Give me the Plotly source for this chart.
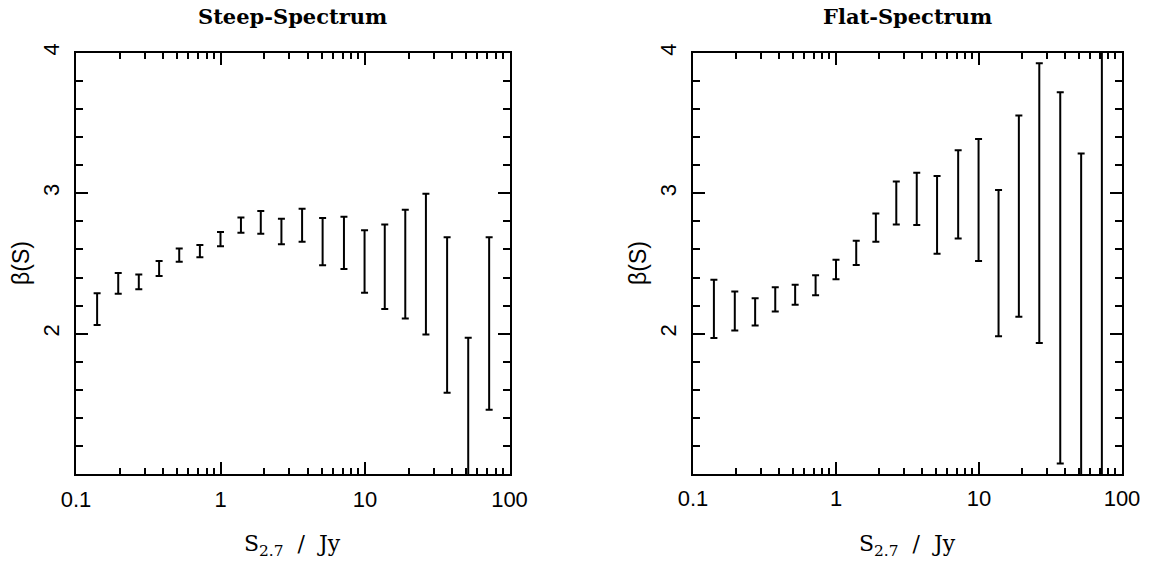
import plotly.graph_objects as go

# Bin centres (S_2.7 in Jy), shared by both panels
s_bins = [0.140, 0.196, 0.272, 0.376, 0.518, 0.72, 1.0, 1.385, 1.90, 2.64,
          3.67, 5.09, 7.15, 9.93, 13.7, 19.0, 26.4, 37.0, 51.8, 72.3]

# Steep-spectrum beta(S): lower / upper ends of each error bar
steep_lo = [2.063, 2.285, 2.316, 2.411, 2.513, 2.545, 2.623, 2.718, 2.711, 2.637,
            2.654, 2.487, 2.461, 2.291, 2.176, 2.108, 1.995, 1.581, 0.80, 1.459]
steep_hi = [2.289, 2.433, 2.421, 2.517, 2.607, 2.632, 2.725, 2.828, 2.873, 2.819,
            2.889, 2.823, 2.833, 2.736, 2.778, 2.882, 2.997, 2.687, 1.972, 2.687]

# Flat-spectrum beta(S)
flat_lo = [1.969, 2.023, 2.059, 2.158, 2.206, 2.274, 2.388, 2.489, 2.655, 2.778,
           2.775, 2.570, 2.678, 2.518, 1.981, 2.121, 1.934, 1.075, 0.80, 0.80]
flat_hi = [2.385, 2.300, 2.253, 2.331, 2.348, 2.416, 2.527, 2.662, 2.856, 3.085,
           3.147, 3.123, 3.307, 3.388, 3.024, 3.555, 3.927, 3.721, 3.284, 4.20]

panel_titles = ["Steep-Spectrum", "Flat-Spectrum"]
x_title = "S<sub>2.7</sub>  /  Jy"
y_title = "β(S)"
x_tickvals = [0.1, 1, 10, 100]
x_ticktext = ["0.1", "1", "10", "100"]
y_tickvals = [2, 3, 4]
y_ticktext = ["2", "3", "4"]

W, H = 1159, 561


def mid_err(lo, hi):
    mid = [(a + b) / 2 for a, b in zip(lo, hi)]
    err = [(b - a) / 2 for a, b in zip(lo, hi)]
    return mid, err


fig = go.Figure()
for i, (lo, hi) in enumerate([(steep_lo, steep_hi), (flat_lo, flat_hi)]):
    mid, err = mid_err(lo, hi)
    fig.add_trace(go.Scatter(
        x=s_bins, y=mid, mode="markers",
        marker=dict(size=1, color="rgba(0,0,0,0)"),
        error_y=dict(type="data", array=err, symmetric=True,
                     color="black", thickness=2, width=3.5),
        xaxis="x" if i == 0 else "x2",
        yaxis="y" if i == 0 else "y2",
        showlegend=False, hoverinfo="skip",
    ))

# panel pixel boxes (left, right, top, bottom)
boxes = [(76, 509.5, 52.7, 474.3), (693, 1122, 53, 474)]

axis_font = dict(family="Liberation Sans, Arial, sans-serif", size=22, color="black")
layout = dict(
    width=W, height=H,
    margin=dict(l=0, r=0, t=0, b=0, pad=0, autoexpand=False),
    paper_bgcolor="white", plot_bgcolor="white",
    showlegend=False,
    annotations=[],
)
for i, (l, r, t, b) in enumerate(boxes):
    sx = "" if i == 0 else "2"
    layout["xaxis" + sx] = dict(
        type="log", range=[-1, 2], domain=[l / W, r / W],
        anchor="y" + sx, automargin=False,
        showline=True, linecolor="black", linewidth=2, mirror="allticks",
        ticks="inside", ticklen=12, tickwidth=2, tickcolor="black",
        tickvals=x_tickvals, ticktext=x_ticktext, ticklabelstandoff=4,
        minor=dict(ticks="inside", ticklen=6, tickwidth=1.5, tickcolor="black",
                   dtick="D1", showgrid=False),
        showgrid=False, zeroline=False, tickfont=axis_font,
    )
    layout["yaxis" + sx] = dict(
        range=[1, 4], domain=[1 - b / H, 1 - t / H],
        anchor="x" + sx, automargin=False,
        showline=True, linecolor="black", linewidth=2, mirror="allticks",
        ticks="inside", ticklen=12, tickwidth=2, tickcolor="black",
        tickvals=y_tickvals, ticktext=y_ticktext, tickangle=-90,
        ticklabelstandoff=6,
        minor=dict(ticks="inside", ticklen=7, tickwidth=1.5, tickcolor="black",
                   dtick=0.2, showgrid=False),
        showgrid=False, zeroline=False, tickfont=axis_font,
    )
    cx = (l + r) / 2
    layout["annotations"] += [
        dict(text="<b>" + panel_titles[i] + "</b>", x=cx / W, y=1 - 17 / H,
             xref="paper", yref="paper", showarrow=False,
             xanchor="center", yanchor="middle",
             font=dict(family="DejaVu Serif, serif", size=21, color="black")),
        dict(text=x_title, x=cx / W, y=1 - 545 / H,
             xref="paper", yref="paper", showarrow=False,
             xanchor="center", yanchor="middle",
             font=dict(family="DejaVu Serif, serif", size=22, color="black")),
        dict(text=y_title, x=(l - 55) / W, y=1 - 263 / H, textangle=-90,
             xref="paper", yref="paper", showarrow=False,
             xanchor="center", yanchor="middle",
             font=dict(family="Liberation Sans, Arial, sans-serif", size=23, color="black")),
    ]

fig.update_layout(**layout)
fig.write_html(
    "out.html",
    config={"displayModeBar": False},
    post_script="document.body.style.margin='0';document.body.style.padding='0';"
                "document.body.style.overflow='hidden';",
)
